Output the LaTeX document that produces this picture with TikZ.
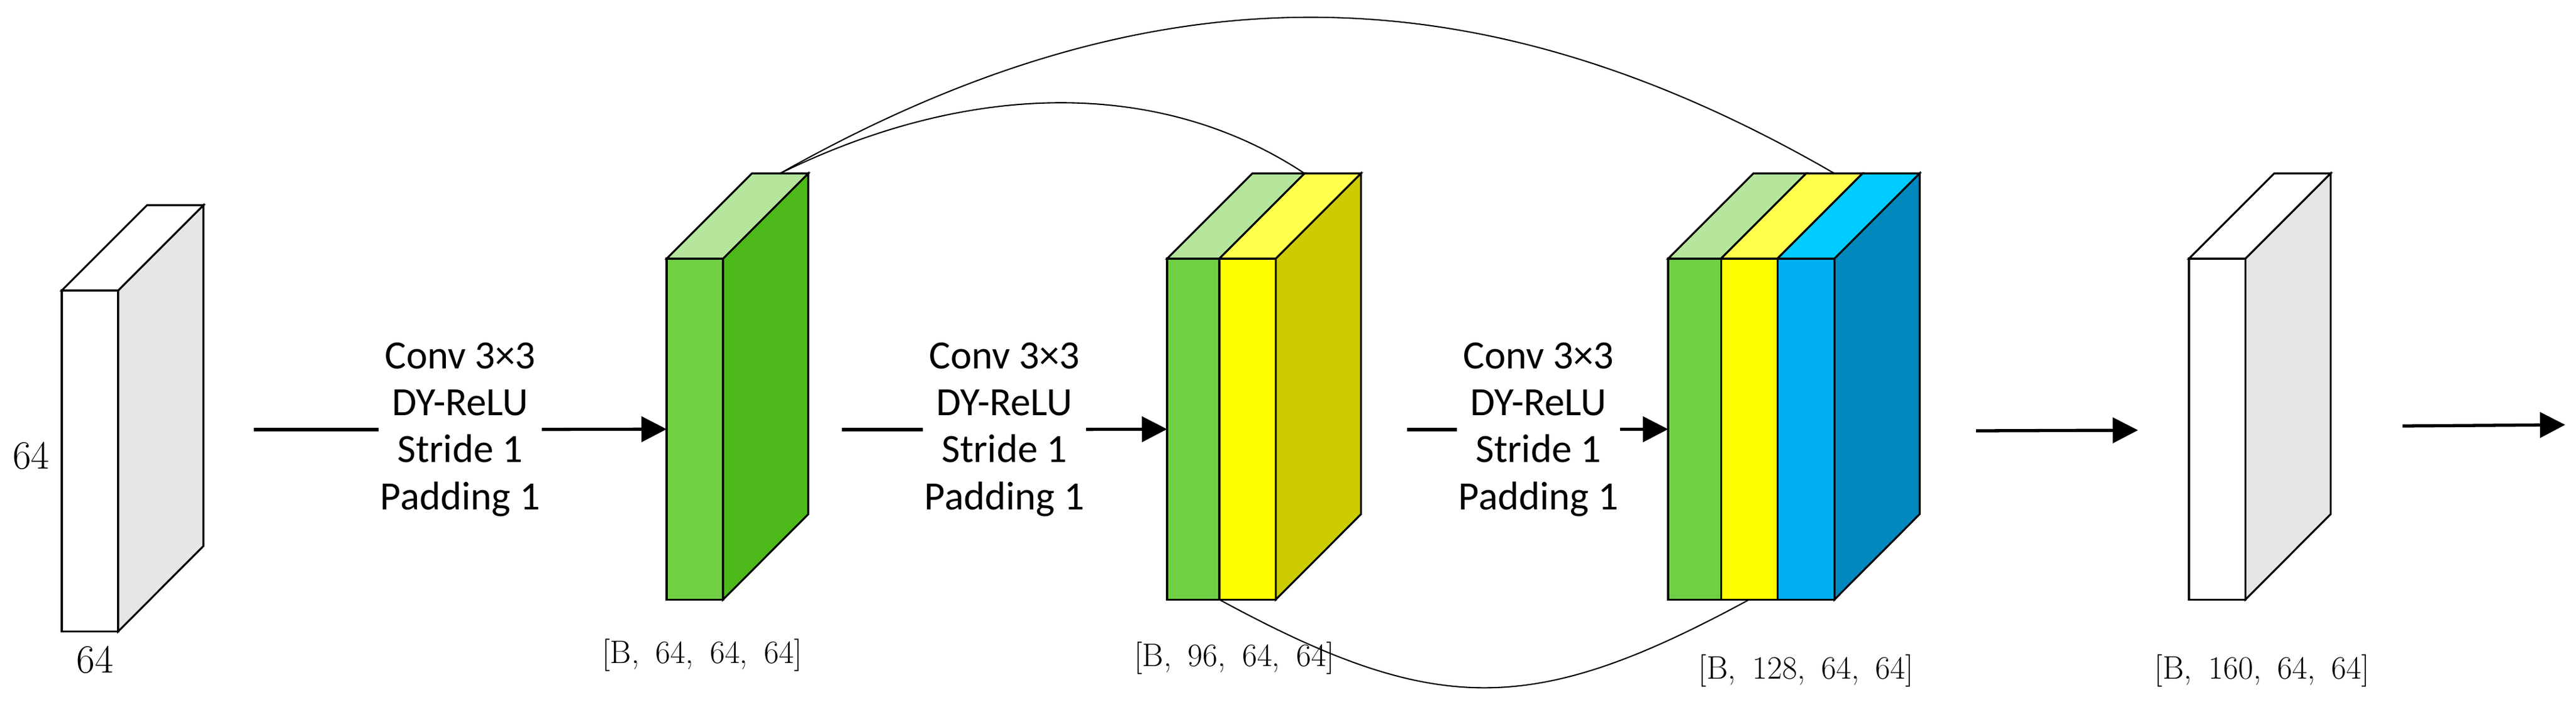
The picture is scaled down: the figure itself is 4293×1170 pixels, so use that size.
\documentclass[tikz,border=0pt]{standalone}
\usepackage{fontspec}
\newfontfamily\calibrifont{Carlito}
\usetikzlibrary{arrows.meta,backgrounds}
\definecolor{greenfront}{HTML}{70D044}
\definecolor{greentop}{HTML}{B5E69B}
\definecolor{greenside}{HTML}{4EB91A}
\definecolor{yellowfront}{HTML}{FFFF00}
\definecolor{yellowtop}{HTML}{FFFF4D}
\definecolor{yellowside}{HTML}{CCCC00}
\definecolor{bluefront}{HTML}{00B0F0}
\definecolor{bluetop}{HTML}{00CCFF}
\definecolor{blueside}{HTML}{0088BF}
\definecolor{greyside}{HTML}{E6E6E6}
\tikzset{
  face/.style={draw=black, line width=0.9pt},
  slab/.style={face, anchor=north west, inner sep=0pt, outer sep=0pt, minimum width=0.94cm, minimum height=5.68cm},
  conv/.style={font=\calibrifont\fontsize{19}{22.2}\selectfont, align=center, inner sep=0pt, minimum width=2.7cm},
  flow/.style={line width=1.5pt},
  flowhead/.style={flow, -{Triangle[length=0.42cm, width=0.42cm]}},
  skip/.style={line width=0.6pt},
  dims/.style={font=\fontsize{15.4}{18}\selectfont, inner sep=0pt},
  sizelabel/.style={font=\fontsize{19}{22}\selectfont, inner sep=0pt}
}
\begin{document}
\begin{tikzpicture}[x=0.01cm, y=-0.01cm]
\useasboundingbox (0,0) rectangle (4293,1170);
\node[slab, fill=white] (in) at (103,484) {};
\filldraw[face, fill=greyside] (in.north east) -- ++(142,-142) -- ++(0,568) -- (in.south east) -- cycle;
\filldraw[face, fill=white] (in.north west) -- ++(142,-142) -- ([shift={(142,-142)}]in.north east) -- (in.north east) -- cycle;
\node[sizelabel] (h1) at (52,760) {64};
\node[sizelabel] (w1) at (158,1100) {64};

\node[slab, fill=greenfront] (g1) at (1111,431) {};
\filldraw[face, fill=greenside] (g1.north east) -- ++(142,-142) -- ++(0,568) -- (g1.south east) -- cycle;
\filldraw[face, fill=greentop] (g1.north west) -- ++(142,-142) -- ([shift={(142,-142)}]g1.north east) -- (g1.north east) -- cycle;

\node[slab, minimum width=0.87cm, fill=greenfront] (g2) at (1945,431) {};
\node[slab, fill=yellowfront] (y2) at (g2.north east) {};
\filldraw[face, fill=yellowside] (y2.north east) -- ++(142,-142) -- ++(0,568) -- (y2.south east) -- cycle;
\filldraw[face, fill=greentop] (g2.north west) -- ++(142,-142) -- ([shift={(142,-142)}]g2.north east) -- (g2.north east) -- cycle;
\filldraw[face, fill=yellowtop] (y2.north west) -- ++(142,-142) -- ([shift={(142,-142)}]y2.north east) -- (y2.north east) -- cycle;

\node[slab, minimum width=0.88cm, fill=greenfront] (g3) at (2780,431) {};
\node[slab, fill=yellowfront] (y3) at (g3.north east) {};
\node[slab, minimum width=0.95cm, fill=bluefront] (b3) at (y3.north east) {};
\filldraw[face, fill=blueside] (b3.north east) -- ++(142,-142) -- ++(0,568) -- (b3.south east) -- cycle;
\filldraw[face, fill=greentop] (g3.north west) -- ++(142,-142) -- ([shift={(142,-142)}]g3.north east) -- (g3.north east) -- cycle;
\filldraw[face, fill=yellowtop] (y3.north west) -- ++(142,-142) -- ([shift={(142,-142)}]y3.north east) -- (y3.north east) -- cycle;
\filldraw[face, fill=bluetop] (b3.north west) -- ++(142,-142) -- ([shift={(142,-142)}]b3.north east) -- (b3.north east) -- cycle;

\node[slab, fill=white] (out) at (3648,431) {};
\filldraw[face, fill=greyside] (out.north east) -- ++(142,-142) -- ++(0,568) -- (out.south east) -- cycle;
\filldraw[face, fill=white] (out.north west) -- ++(142,-142) -- ([shift={(142,-142)}]out.north east) -- (out.north east) -- cycle;

\begin{scope}[on background layer]
\draw[skip] ([shift={(142,-142)}]g1.north) .. controls +(615,-347) and +(-600,-347) .. ([shift={(142,-142)}]y3.north);
\draw[skip] ([shift={(142,-142)}]g1.north) .. controls +(320,-157) and +(-237,-157) .. ([shift={(142,-142)}]g2.north east);
\draw[skip] (g2.south east) .. controls +(361,196) and +(-361,196) .. (y3.south);
\end{scope}

\node[conv] (c1) at (767,716) {Conv 3×3\\DY-ReLU\\Stride 1\\Padding 1};
\node[conv] (c2) at (1674,716) {Conv 3×3\\DY-ReLU\\Stride 1\\Padding 1};
\node[conv] (c3) at (2564,716) {Conv 3×3\\DY-ReLU\\Stride 1\\Padding 1};
\coordinate (a1) at (423,716);
\coordinate (a2) at (1403,716);
\coordinate (a3) at (2345,716);
\coordinate (a4) at (3293,718);
\coordinate (e4) at (3563,717);
\coordinate (a5) at (4004,710);
\coordinate (e5) at (4275,708);
\draw[flow] (a1) -- (c1);
\draw[flowhead] (c1) -- (g1);
\draw[flow] (a2) -- (c2);
\draw[flowhead] (c2) -- (g2);
\draw[flow] (a3) -- (c3);
\draw[flowhead] (c3) -- (g3);
\draw[flowhead] (a4) -- (e4);
\draw[flowhead] (a5) -- (e5);

\node[dims] (d1) at (1170,1092) {[B,\enspace 64,\enspace 64,\enspace 64]};
\node[dims] (d2) at (2057,1097) {[B,\enspace 96,\enspace 64,\enspace 64]};
\node[dims] (d3) at (3010,1118) {[B,\enspace 128,\enspace 64,\enspace 64]};
\node[dims] (d4) at (3770,1118) {[B,\enspace 160,\enspace 64,\enspace 64]};
\end{tikzpicture}
\end{document}
